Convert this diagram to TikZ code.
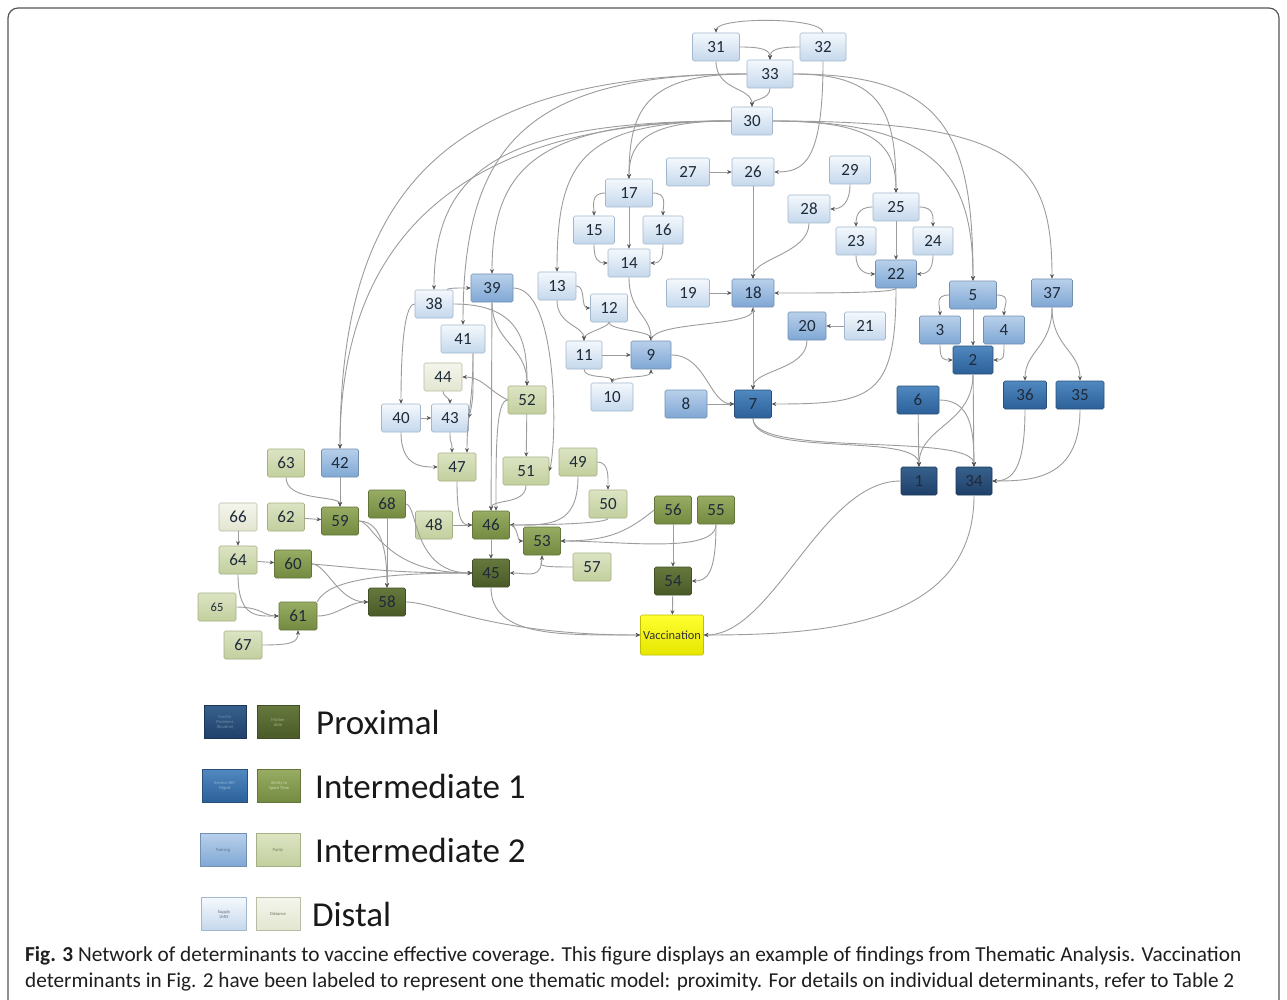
\documentclass[tikz,border=0pt]{standalone}
\usepackage{fontspec}
\usepackage{graphicx}
\setmainfont{Carlito}
\usetikzlibrary{arrows.meta}
\definecolor{dBt}{HTML}{F4F8FC}\definecolor{dBb}{HTML}{C5D8EC}\definecolor{dBd}{HTML}{A2B7CC}
\definecolor{iiBt}{HTML}{B8D0EA}\definecolor{iiBb}{HTML}{7FA7D4}\definecolor{iiBd}{HTML}{7390B2}
\definecolor{iBt}{HTML}{5088C0}\definecolor{iBb}{HTML}{2C6098}\definecolor{iBd}{HTML}{2A5078}
\definecolor{pBt}{HTML}{36608C}\definecolor{pBb}{HTML}{1F4069}\definecolor{pBd}{HTML}{1B3657}
\definecolor{dGt}{HTML}{F4F5EC}\definecolor{dGb}{HTML}{E2E6D0}\definecolor{dGd}{HTML}{B8BDA3}
\definecolor{iiGt}{HTML}{DCE4C3}\definecolor{iiGb}{HTML}{C2CF9D}\definecolor{iiGd}{HTML}{A4B083}
\definecolor{iGt}{HTML}{98AC63}\definecolor{iGb}{HTML}{738A40}\definecolor{iGd}{HTML}{63753A}
\definecolor{pGt}{HTML}{66783C}\definecolor{pGb}{HTML}{4A5A28}\definecolor{pGd}{HTML}{414F25}
\definecolor{vt}{HTML}{FFFF30}\definecolor{vb}{HTML}{E6E600}\definecolor{vd}{HTML}{C0C000}
\definecolor{txt}{HTML}{1E2A3A}
\definecolor{edgec}{HTML}{9C9C9C}
\definecolor{arrowc}{HTML}{555555}
\definecolor{framec}{HTML}{555555}
\tikzset{
  nb/.style={rectangle, rounded corners=1.5pt, minimum width=38pt, minimum height=28pt,
    inner sep=0pt, font=\fontsize{17}{17}\selectfont, text=txt, line width=0.6pt},
  dB/.style={nb, top color=dBt, bottom color=dBb, draw=dBd},
  iiB/.style={nb, top color=iiBt, bottom color=iiBb, draw=iiBd},
  iB/.style={nb, top color=iBt, bottom color=iBb, draw=iBd},
  pB/.style={nb, top color=pBt, bottom color=pBb, draw=pBd},
  dG/.style={nb, top color=dGt, bottom color=dGb, draw=dGd},
  iiG/.style={nb, top color=iiGt, bottom color=iiGb, draw=iiGd},
  iG/.style={nb, top color=iGt, bottom color=iGb, draw=iGd},
  pG/.style={nb, top color=pGt, bottom color=pGb, draw=pGd},
  vac/.style={nb, top color=vt, bottom color=vb, draw=vd, minimum width=63pt, minimum height=40pt,
    font=\fontsize{12.4}{12.4}\selectfont, text=black!80},
  lg/.style={minimum width=43pt, minimum height=33pt, align=center,
    font=\fontsize{4.5}{5}\selectfont},
  lgtext/.style={anchor=west, inner sep=0pt, font=\fontsize{35}{35}\selectfont, text=black!90},
  e/.style={draw=edgec, line width=0.9pt, -{Stealth[length=4.5pt,width=4pt,color=arrowc]}},
}
\begin{document}
\begin{tikzpicture}[x=1pt,y=-1pt]
\useasboundingbox (0,0) rectangle (1287,1000);
\fill[white] (0,0) rectangle (1287,1000);
\draw[framec, line width=1.2pt, rounded corners=10pt] (8,1002) -- (8,8) -- (1279,8) -- (1279,1002);

% ---- nodes ----
\node[dB,minimum width=47pt] (n31) at (716,47) {31};
\node[dB,minimum width=46pt] (n32) at (823,47) {32};
\node[dB,minimum width=46pt] (n33) at (770,74) {33};
\node[dB,minimum width=41pt] (n30) at (752,121) {30};
\node[dB,minimum width=43pt] (n27) at (688,172) {27};
\node[dB,minimum width=42pt] (n26) at (753,172) {26};
\node[dB,minimum width=41pt] (n29) at (850,170) {29};
\node[dB,minimum width=42pt] (n28) at (809,209) {28};
\node[dB,minimum width=46pt] (n25) at (896,207) {25};
\node[dB,minimum width=40pt] (n23) at (856,241) {23};
\node[dB,minimum width=40pt] (n24) at (933,241) {24};
\node[dB,minimum width=47pt] (n17) at (629,193) {17};
\node[dB,minimum width=41pt] (n15) at (594,230) {15};
\node[dB,minimum width=40pt] (n16) at (663,230) {16};
\node[dB,minimum width=42pt] (n14) at (629,263) {14};
\node[iiB,minimum width=41pt] (n22) at (896,274) {22};
\node[iiB,minimum width=42pt] (n18) at (753,293) {18};
\node[dB,minimum width=43pt] (n19) at (688,293) {19};
\node[dB] (n13) at (557,286) {13};
\node[dB,minimum width=37pt] (n12) at (609,308) {12};
\node[dB,minimum width=36pt] (n11) at (584,355) {11};
\node[iiB,minimum width=40pt] (n9) at (651,355) {9};
\node[dB,minimum width=42pt] (n10) at (612,397) {10};
\node[iiB,minimum width=42pt] (n8) at (686,404) {8};
\node[iB,minimum width=37pt] (n7) at (753,404) {7};
\node[iiB] (n20) at (807,326) {20};
\node[dB,minimum width=41pt] (n21) at (865,326) {21};
\node[iiB,minimum width=47pt] (n5) at (973,295) {5};
\node[iiB,minimum width=41pt] (n3) at (940,330) {3};
\node[iiB,minimum width=41pt] (n4) at (1004,330) {4};
\node[iB,minimum width=40pt] (n2) at (973,360) {2};
\node[iiB,minimum width=41pt] (n37) at (1052,293) {37};
\node[iB,minimum width=43pt] (n36) at (1025,395) {36};
\node[iB,minimum width=48pt] (n35) at (1080,395) {35};
\node[iB,minimum width=42pt] (n6) at (918,400) {6};
\node[pB,minimum width=36pt] (n1) at (919,481) {1};
\node[pB,minimum width=36pt] (n34) at (974,481) {34};
\node[iiB,minimum width=42pt] (n39) at (492,288) {39};
\node[dB] (n38) at (434,304) {38};
\node[dB,minimum width=44pt] (n41) at (463,339) {41};
\node[dG] (n44) at (443,377) {44};
\node[iiG] (n52) at (527,400) {52};
\node[dB,minimum width=39pt] (n40) at (401,418) {40};
\node[dB,minimum width=37pt] (n43) at (450,418) {43};
\node[iiG] (n47) at (457,467) {47};
\node[iiG,minimum width=46pt] (n51) at (526,471) {51};
\node[iiG] (n49) at (578,462) {49};
\node[iiG] (n50) at (608,504) {50};
\node[iiB,minimum width=37pt] (n42) at (340,463) {42};
\node[iiG,minimum width=37pt] (n63) at (286,463) {63};
\node[dG] (n66) at (238,517) {66};
\node[iiG,minimum width=37pt] (n62) at (286,517) {62};
\node[iG,minimum width=37pt] (n59) at (340,521) {59};
\node[iG,minimum width=37pt] (n68) at (387,504) {68};
\node[iiG,minimum width=37pt] (n48) at (434,525) {48};
\node[iG,minimum width=37pt] (n46) at (491,525) {46};
\node[iG,minimum width=37pt] (n53) at (542,541) {53};
\node[iiG] (n57) at (592,567) {57};
\node[iG,minimum width=37pt] (n56) at (673,510) {56};
\node[iG,minimum width=37pt] (n55) at (716,510) {55};
\node[pG,minimum width=37pt] (n54) at (673,581) {54};
\node[pG,minimum width=37pt] (n45) at (491,573) {45};
\node[iiG] (n64) at (238,560) {64};
\node[iG,minimum width=37pt] (n60) at (293,564) {60};
\node[pG,minimum width=37pt] (n58) at (387,602) {58};
\node[iiG,font=\fontsize{12.5}{12.5}\selectfont] (n65) at (217,607) {65};
\node[iG] (n61) at (298,616) {61};
\node[iiG] (n67) at (243,645) {67};
\node[vac] (nV) at (672,635) {Vaccination};

% ---- edges: top ----
\draw[e] (n32.north) .. controls +(0,-16) and +(0,-16) .. (n31.north);
\draw[e] (n31.east) .. controls +(22,0) and +(0,-10) .. (n33.north);
\draw[e] (n32.west) .. controls +(-22,0) and +(0,-10) .. (n33.north);
\draw[e] (n31.south) .. controls +(0,30) and +(0,-20) .. (n30.north);
\draw[e] (n33.south) .. controls +(0,12) and +(0,-8) .. (n30.north);
\draw[e] (n32.south) .. controls +(0,100) and +(30,0) .. (n26.east);
% top-left fans
\draw[e] (n33.west) .. controls +(-300,0) and +(0,-260) .. (n42.north);
\draw[e] (n30.west) .. controls +(-260,0) and +(0,-220) .. (n42.north);
\draw[e] (n30.west) .. controls +(-230,0) and +(0,-120) .. (n38.north);
\draw[e] (n33.west) .. controls +(-220,0) and +(0,-180) .. (n41.north);
\draw[e] (n30.west) .. controls +(-190,0) and +(0,-110) .. (n39.north);
\draw[e] (n30.west) .. controls +(-150,0) and +(0,-110) .. (n13.north);
\draw[e] (n33.west) .. controls +(-100,0) and +(0,-70) .. (n17.north);
\draw[e] (n30.west) .. controls +(-80,0) and +(0,-40) .. (n17.north);
% top-right fans
\draw[e] (n33.east) .. controls +(90,0) and +(0,-80) .. (n25.north);
\draw[e] (n30.east) .. controls +(100,0) and +(0,-50) .. (n25.north);
\draw[e] (n33.east) .. controls +(150,0) and +(0,-150) .. (n5.north);
\draw[e] (n30.east) .. controls +(170,0) and +(0,-100) .. (n5.north);
\draw[e] (n30.east) .. controls +(240,0) and +(0,-120) .. (n37.north);
% ---- middle ----
\draw[e] (n27) -- (n26);
\draw[e] (n29.south) .. controls +(0,20) and +(10,0) .. (n28.east);
\draw[e] (n26) -- (n18);
\draw[e] (n28.south) .. controls +(0,30) and +(0,-20) .. (n18.north);
\draw[e] (n19) -- (n18);
\draw[e] (n22.south) .. controls +(0,5) and +(40,0) .. (n18.east);
\draw[e] (n25.west) .. controls +(-15,0) and +(0,-10) .. (n23.north);
\draw[e] (n25.east) .. controls +(15,0) and +(0,-10) .. (n24.north);
\draw[e] (n25) -- (n22);
\draw[e] (n23.south) .. controls +(0,15) and +(-10,0) .. (n22.west);
\draw[e] (n24.south) .. controls +(0,15) and +(10,0) .. (n22.east);
\draw[e] (n17.west) .. controls +(-15,0) and +(0,-10) .. (n15.north);
\draw[e] (n17.east) .. controls +(15,0) and +(0,-10) .. (n16.north);
\draw[e] (n17) -- (n14);
\draw[e] (n15.south) .. controls +(0,15) and +(-10,0) .. (n14.west);
\draw[e] (n16.south) .. controls +(0,15) and +(10,0) .. (n14.east);
\draw[e] (n14.south) .. controls +(0,35) and +(0,-25) .. (n9.north);
\draw[e] (n13.east) .. controls +(10,0) and +(-10,0) .. (n12.west);
\draw[e] (n13.south) .. controls +(0,25) and +(0,-15) .. (n11.north);
\draw[e] (n12.south) .. controls +(0,5) and +(0,-8) .. (n11.north);
\draw[e] (n12.south) .. controls +(0,8) and +(0,-10) .. (n9.north);
\draw[e] (n11) -- (n9);
\draw[e] (n11.south) .. controls +(0,10) and +(0,-8) .. (n10.north);
\draw[e] (n10.north) .. controls +(0,-8) and +(0,10) .. (n9.south);
\draw[e] (n9.north) .. controls +(0,-20) and +(0,20) .. (n18.south);
\draw[e] (n9.east) .. controls +(35,0) and +(-25,0) .. (n7.west);
\draw[e] (n8) -- (n7);
\draw[e] (n18) -- (n7);
\draw[e] (n20.south) .. controls +(0,30) and +(0,-20) .. (n7.north);
\draw[e] (n21) -- (n20);
\draw[e] (n22.south) .. controls +(0,110) and +(100,0) .. (n7.east);
% ---- right ----
\draw[e] (n5.west) .. controls +(-15,0) and +(0,-10) .. (n3.north);
\draw[e] (n5.east) .. controls +(15,0) and +(0,-10) .. (n4.north);
\draw[e] (n5) -- (n2);
\draw[e] (n3.south) .. controls +(0,15) and +(-10,0) .. (n2.west);
\draw[e] (n4.south) .. controls +(0,15) and +(10,0) .. (n2.east);
\draw[e] (n2.south) .. controls +(0,50) and +(0,-40) .. (n1.north);
\draw[e] (n2) -- (n34);
\draw[e] (n6) -- (n1);
\draw[e] (n6.east) .. controls +(30,0) and +(0,-40) .. (n34.north);
\draw[e] (n37.south) .. controls +(0,40) and +(0,-30) .. (n36.north);
\draw[e] (n37.south) .. controls +(0,40) and +(0,-30) .. (n35.north);
\draw[e] (n36.south) .. controls +(0,60) and +(20,0) .. (n34.east);
\draw[e] (n35.south) .. controls +(0,70) and +(40,0) .. (n34.east);
\draw[e] (n7.south) .. controls +(0,40) and +(0,-35) .. (n1.north);
\draw[e] (n7.south) .. controls +(0,40) and +(0,-35) .. (n34.north);
\draw[e] (n1.west) .. controls +(-80,0) and +(70,0) .. (nV.east);
\draw[e] (n34.south) .. controls +(0,130) and +(120,0) .. (nV.east);
% ---- left-middle ----
\draw[e] ([xshift=-6pt]n38.north east) .. controls +(0,-2) and +(-8,0) .. (n39.west);
\draw[e] (n38.west) .. controls +(-12,0) and +(0,-40) .. (n40.north);
\draw[e] (n38.east) .. controls +(70,0) and +(0,-40) .. (n52.north);
\draw[e] (n39.south) .. controls +(0,40) and +(0,-40) .. (n52.north);
\draw[e] (n39) -- (n46);
\draw[e] (n52.west) .. controls +(-12,0) and +(0,-60) .. ([xshift=5pt]n46.north);
\draw[e] (n39.east) .. controls +(45,0) and +(8,-30) .. (n51.east);
\draw[e] (n52.west) .. controls +(-20,-10) and +(20,0) .. (n44.east);
\draw[e] (n52) -- (n51);
\draw[e] (n44.south) .. controls +(0,5) and +(0,-5) .. (n43.north);
\draw[e] (n40) -- (n43);
\draw[e] ([xshift=10pt]n41.south) .. controls +(0,40) and +(5,-20) .. (n43.east);
\draw[e] ([xshift=10pt]n41.south) .. controls +(0,50) and +(0,-40) .. ([xshift=10pt]n47.north);
\draw[e] (n40.south) .. controls +(0,35) and +(-15,0) .. (n47.west);
\draw[e] (n43.south) .. controls +(0,15) and +(0,-15) .. ([xshift=-5pt]n47.north);
\draw[e] (n47.south) .. controls +(0,40) and +(-10,0) .. (n46.west);
\draw[e] (n51.south) .. controls +(0,20) and +(0,-12) .. (n46.north);
\draw[e] (n49.south) .. controls +(0,50) and +(40,0) .. (n46.east);
\draw[e] (n50.south) .. controls +(0,5) and +(40,0) .. (n46.east);
\draw[e] (n49.east) .. controls +(12,0) and +(0,-12) .. (n50.north);
\draw[e] (n48) -- (n46);
\draw[e] (n46) -- (n45);
\draw[e] (n46.east) .. controls +(8,0) and +(-6,0) .. (n53.west);
\draw[e] (n53.south) .. controls +(0,25) and +(20,0) .. (n45.east);
\draw[e] (n57.west) .. controls +(-40,0) and +(0,10) .. (n53.south);
\draw[e] (n56.west) .. controls +(-25,20) and +(50,0) .. (n53.east);
\draw[e] (n55.south) .. controls +(0,30) and +(60,0) .. (n53.east);
\draw[e] (n56) -- (n54);
\draw[e] (n55.south) .. controls +(0,50) and +(15,0) .. (n54.east);
\draw[e] (n54) -- (nV);
\draw[e] (n45.south) .. controls +(0,50) and +(-80,0) .. (nV.west);
\draw[e] (n58.east) .. controls +(30,0) and +(-150,0) .. (nV.west);
% ---- left-bottom ----
\draw[e] (n42) -- (n59);
\draw[e] (n63.south) .. controls +(0,25) and +(0,-12) .. (n59.north);
\draw[e] (n62) -- (n59);
\draw[e] (n66) -- (n64);
\draw[e] (n64) -- (n60);
\draw[e] (n64.south) .. controls +(0,45) and +(-20,0) .. (n61.west);
\draw[e] (n65.east) .. controls +(25,0) and +(-15,0) .. (n61.west);
\draw[e] (n67.east) .. controls +(30,0) and +(0,12) .. (n61.south);
\draw[e] (n59.east) .. controls +(25,0) and +(0,-30) .. (n58.north);
\draw[e] (n59.east) .. controls +(15,0) and +(-90,0) .. (n45.west);
\draw[e] (n68) -- (n58);
\draw[e] (n68.east) .. controls +(12,0) and +(-60,0) .. (n45.west);
\draw[e] (n60.east) .. controls +(60,5) and +(-80,0) .. (n45.west);
\draw[e] (n60.east) .. controls +(15,0) and +(-30,0) .. (n58.west);
\draw[e] (n61.east) .. controls +(20,0) and +(-20,0) .. (n58.west);
\draw[e] (n61.north east) .. controls +(10,-20) and +(-100,0) .. (n45.west);

% ---- legend ----
\node[lg, top color=pBt, bottom color=pBb, draw=pBd, text=pBt!70!white, minimum width=42pt] (lg1a) at (225,722) {Facility\\Problems\\(Routine)};
\node[lg, top color=pGt, bottom color=pGb, draw=pGd, text=pGt!60!white, minimum width=42pt] (lg1b) at (278,722) {Mother\\Able};
\node[lgtext] (lt1) at (316,722) {Proximal};
\node[lg, top color=iBt, bottom color=iBb, draw=iBd, text=iBt!60!white, minimum width=45pt] (lg2a) at (225,786) {Service HR/\\Mgmt};
\node[lg, top color=iGt, bottom color=iGb, draw=iGd, text=iGt!50!white, minimum width=43pt] (lg2b) at (279,786) {Ability to\\Spare Time};
\node[lgtext] (lt2) at (315,786) {Intermediate 1};
\node[lg, top color=iiBt, bottom color=iiBb, draw=iiBd, text=iiBd!80!black, minimum width=46pt] (lg3a) at (223,850) {Training};
\node[lg, top color=iiGt, bottom color=iiGb, draw=iiGd, text=iiGd!70!black, minimum width=44pt] (lg3b) at (278,850) {Parity};
\node[lgtext] (lt3) at (315,850) {Intermediate 2};
\node[lg, top color=dBt, bottom color=dBb, draw=dBd, text=dBd!60!black, minimum width=45pt] (lg4a) at (224,914) {Supply\\LMIS};
\node[lg, top color=dGt, bottom color=dGb, draw=dGd, text=dGd!60!black, minimum width=44pt] (lg4b) at (278,914) {Distance};
\node[lgtext] (lt4) at (312,914) {Distal};

% ---- caption ----
\node[anchor=west, inner sep=0pt, text=black!88] (cap1) at (25,956) {\resizebox{1216pt}{!}{\fontsize{20}{20}\selectfont\textbf{Fig. 3} Network of determinants to vaccine effective coverage. This figure displays an example of findings from Thematic Analysis. Vaccination}};
\node[anchor=west, inner sep=0pt, text=black!88] (cap2) at (25,982) {\resizebox{1209pt}{!}{\fontsize{20}{20}\selectfont determinants in Fig. 2 have been labeled to represent one thematic model: proximity. For details on individual determinants, refer to Table 2}};
\end{tikzpicture}
\end{document}
